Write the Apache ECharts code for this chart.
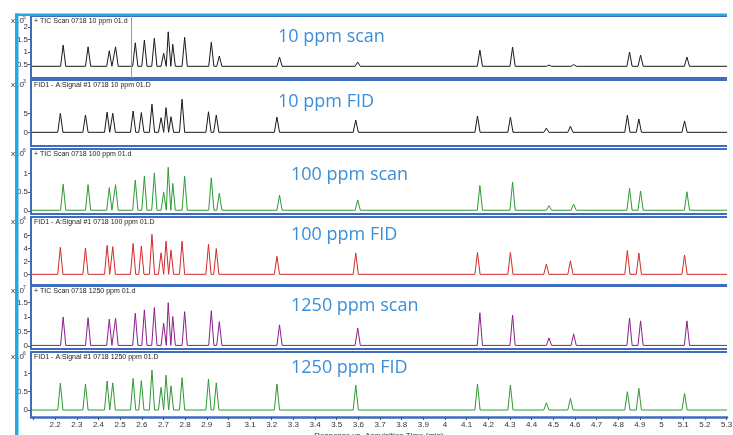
<!DOCTYPE html>
<html><head><meta charset="utf-8">
<script src="https://cdn.jsdelivr.net/npm/echarts@6/dist/echarts.min.js"></script>
<style>html,body{margin:0;padding:0;background:#fff}#c{width:733px;height:435px}</style>
</head><body><div id="c"></div>
<script>
// ---- data ----
const xTicks = [2.1,2.2,2.3,2.4,2.5,2.6,2.7,2.8,2.9,3,3.1,3.2,3.3,3.4,3.5,3.6,3.7,3.8,3.9,4,4.1,4.2,4.3,4.4,4.5,4.6,4.7,4.8,4.9,5,5.1,5.2,5.3];
const ticTimes = [2.237,2.352,2.450,2.479,2.570,2.612,2.658,2.701,2.722,2.743,2.798,2.921,2.958,3.236,3.597,4.161,4.312,4.480,4.594,4.852,4.903,5.117];
const fidTimes = [2.224,2.340,2.440,2.466,2.560,2.598,2.647,2.689,2.712,2.735,2.786,2.908,2.944,3.224,3.588,4.150,4.302,4.468,4.579,4.842,4.895,5.106];
const scan10Heights  = [1.27,1.20,1.04,1.20,1.36,1.47,1.54,0.94,1.80,1.30,1.58,1.38,0.83,0.79,0.59,1.07,1.19,0.47,0.49,0.99,0.87,0.79];
const fid10Heights   = [5.0,4.55,5.3,5.0,5.6,5.2,7.4,3.85,6.5,4.1,8.7,5.4,4.55,4.0,3.2,4.3,4.0,1.1,1.6,4.5,3.5,3.0];
const scan100Heights = [0.71,0.70,0.62,0.70,0.82,0.92,1.01,0.50,1.16,0.73,0.92,0.88,0.47,0.42,0.29,0.68,0.77,0.14,0.18,0.60,0.53,0.51];
const fid100Heights  = [4.2,4.1,4.5,4.3,4.8,4.4,6.2,3.35,5.15,3.75,5.15,4.65,4.0,2.8,3.3,3.4,3.4,1.6,2.1,3.7,3.3,3.0];
const scan1250Heights= [1.00,0.98,0.93,0.96,1.13,1.25,1.33,0.79,1.50,1.02,1.19,1.22,0.84,0.73,0.62,1.15,1.07,0.28,0.42,0.97,0.87,0.87];
const fid1250Heights = [0.73,0.71,0.79,0.74,0.86,0.80,1.09,0.62,0.95,0.66,0.88,0.84,0.74,0.71,0.68,0.71,0.68,0.20,0.32,0.50,0.59,0.45];
const baselines = [0.42,0,0.02,0,0.02,0];
const yTicks = [[0.5,1,1.5,2],[0,5],[0,0.5,1],[0,2,4,6],[0,0.5,1,1.5],[0,0.5,1]];
const exponents = ['5','3','6','4','7','6'];
const traceTitles = ['+ TIC Scan 0718 10 ppm 01.d','FID1 - A:Signal #1 0718 10 ppm 01.D','+ TIC Scan 0718 100 ppm 01.d','FID1 - A:Signal #1 0718 100 ppm 01.D','+ TIC Scan 0718 1250 ppm 01.d','FID1 - A:Signal #1 0718 1250 ppm 01.D'];
const bigLabels = ['10 ppm scan','10 ppm FID','100 ppm scan','100 ppm FID','1250 ppm scan','1250 ppm FID'];
const cursorTime = 2.546;

// ---- layout / style ----
const peakTimes = [ticTimes,fidTimes,ticTimes,fidTimes,ticTimes,fidTimes];
const peakHeights = [scan10Heights,fid10Heights,scan100Heights,fid100Heights,scan1250Heights,fid1250Heights];
const colors = ['#1a1a1a','#1a1a1a','#2f9a35','#d42a2a','#8a1f8a','#2f9a35'];
const boxes = [[16,78],[80,146],[149,214],[217,285],[286,349],[352,417]];
const yRanges = [[-0.048,2.432],[-3.6,13.76],[-0.08,1.645],[-1.66,8.91],[-0.104,2.078],[-0.19,1.58]];
const labelPos = [[278,40],[278,105],[291,178],[291,238],[291,309],[291,371]];
const HW = 0.012;
const BORDER = '#3d6cc0';

function trace(times, heights, base){
  const d = [[2.09, base]];
  times.forEach((t,i)=>{ d.push([t-HW, base],[t, heights[i]],[t+HW, base]); });
  d.push([5.302, base]);
  return d;
}

const grids=[], xAxes=[], yAxes=[], series=[], graphics=[];
boxes.forEach((b,i)=>{
  grids.push({left:31, width:696, top:b[0], height:b[1]-b[0], show:false, containLabel:false, outerBoundsMode:'none'});
  const last = i===5;
  xAxes.push({type:'value', gridIndex:i, min:2.0885, max:5.302, splitLine:{show:false}, position:'bottom',
    axisLine:{show:last, onZero:false, lineStyle:{color:BORDER, width:2.5}},
    axisTick:{show:last, customValues:xTicks, length:3, lineStyle:{color:'#555'}},
    axisLabel:{show:last, customValues:xTicks.slice(1), fontSize:8, color:'#333', margin:4, fontFamily:'Liberation Sans'},
    name: last?'Response vs. Acquisition Time (min)':'', nameLocation:'middle', nameGap:15,
    nameTextStyle:{fontSize:8, color:'#333', fontFamily:'Liberation Sans'}});
  yAxes.push({type:'value', gridIndex:i, min:yRanges[i][0], max:yRanges[i][1], splitLine:{show:false},
    axisLine:{show:false, onZero:false},
    axisTick:{show:true, customValues:yTicks[i], length:3, lineStyle:{color:'#555'}},
    axisLabel:{show:true, customValues:yTicks[i], fontSize:8, color:'#333', margin:3, fontFamily:'Liberation Sans'}});
  const s = {type:'line', xAxisIndex:i, yAxisIndex:i, data:trace(peakTimes[i], peakHeights[i], baselines[i]),
    showSymbol:false, symbol:'none', lineStyle:{color:colors[i], width:1}, animation:false, silent:true};
  if(i===0){ s.markLine = {silent:true, symbol:'none', label:{show:false}, lineStyle:{color:'#9a9a9a', width:1, type:'solid'}, data:[{xAxis:cursorTime}]}; }
  series.push(s);
  const pts = last ? [[727,b[0]],[31,b[0]],[31,b[1]]] : [[727,b[0]],[31,b[0]],[31,b[1]],[727,b[1]]];
  graphics.push({type:'polyline', shape:{points:pts}, style:{stroke:BORDER, lineWidth:2, fill:null}, z:5});
  graphics.push({type:'text', left:34, top:b[0]+2, style:{text:traceTitles[i], fontSize:7, fill:'#222', fontFamily:'Liberation Sans'}, z:10});
  graphics.push({type:'text', left:11, top:b[0]+1, style:{text:'x10', fontSize:8, fill:'#333', fontFamily:'Liberation Sans'}, z:10});
  graphics.push({type:'text', left:23, top:b[0]-1, style:{text:exponents[i], fontSize:5, fill:'#333', fontFamily:'Liberation Sans'}, z:10});
  graphics.push({type:'text', left:labelPos[i][0], top:labelPos[i][1]-12, style:{text:bigLabels[i], fontSize:18, fill:'#3a8fd8', fontFamily:'Open Sans'}, z:10});
});
graphics.push({type:'rect', shape:{x:15, y:13.5, width:712, height:2.5}, style:{fill:'#27a8dc'}, z:20});
graphics.push({type:'rect', shape:{x:15, y:13.5, width:3.5, height:422}, style:{fill:'#27a8dc'}, z:20});

const chart = echarts.init(document.getElementById('c'), null, {renderer:'canvas'});
chart.setOption({animation:false, backgroundColor:'#fff', grid:grids, xAxis:xAxes, yAxis:yAxes, series:series, graphic:graphics});
</script></body></html>
